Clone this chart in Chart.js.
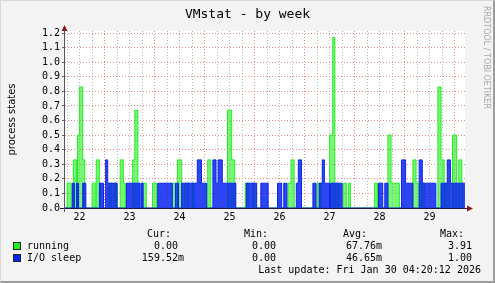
<!DOCTYPE html>
<html>
<head>
<meta charset="utf-8">
<script src="https://cdn.jsdelivr.net/npm/chart.js@4.4.1/dist/chart.umd.min.js"></script>
<style>
  html, body { margin: 0; padding: 0; background: #f3f3f3; }
  #graph { position: relative; width: 495px; height: 283px; background: #f3f3f3; overflow: hidden;
           font-family: 'DejaVu Sans Mono', monospace; font-size: 10px; line-height: 12px; color: #000; }
  #graph canvas { position: absolute; left: 0; top: 0; }
  .frame { position: absolute; left: 0; top: 0; width: 495px; height: 283px; box-sizing: border-box;
           border-top: 1px solid #d8d8d8; border-left: 1px solid #d8d8d8;
           border-right: 2px solid #9c9c9c; border-bottom: 2px solid #9c9c9c; }
  .t { position: absolute; white-space: pre; }
  .sw { position: absolute; width: 6px; height: 6px; border: 1px solid #222; }
</style>
</head>
<body>
<div id="graph">
  <canvas id="vmstat" width="495" height="283"></canvas>
  <div class="t" style="left:0;width:495px;text-align:center;top:6px;font-size:13px;line-height:15px;">VMstat - by week</div>
  <div class="t" style="left:481px;top:6px;writing-mode:vertical-rl;font-family:'DejaVu Sans';font-size:8px;line-height:10px;color:#a8a8a8;">RRDTOOL / TOBI OETIKER</div>
  <div id="legend"></div>
  <div class="frame"></div>
</div>
<script>
(function () {
    "use strict";

    // x is in hours since Jan 22 00:00, one week + a bit (05:00 Jan 22 .. 05:00 Jan 30)
    var xMin = 5, xMax = 197;
    var dayLabels = ['22', '23', '24', '25', '26', '27', '28', '29'];
    var yTicks = [0, 0.1, 0.2, 0.3, 0.4, 0.5, 0.6, 0.7, 0.8, 0.9, 1.0, 1.1, 1.2];

    // [start hour, end hour, value]
    var runningSpans = [
        [6, 8, 0.17], [9, 10.5, 0.33], [11, 12, 0.5], [12, 13.5, 0.83], [13.5, 14.5, 0.33],
        [18, 19.5, 0.17], [20, 21.5, 0.33], [21.5, 22, 0.17], [26, 27.5, 0.17], [28.5, 30, 0.17],
        [31.5, 33, 0.33], [33, 34, 0.17], [37.5, 38.5, 0.33], [38.5, 40, 0.67], [42, 44, 0.17],
        [47, 49, 0.17], [56.5, 58, 0.17], [59, 61, 0.33], [62.5, 64.5, 0.17], [66, 67, 0.17],
        [73.5, 75, 0.33], [83, 85, 0.67], [85, 86.5, 0.33], [91.5, 93, 0.17], [95, 96, 0.17],
        [112, 113.5, 0.17], [113.5, 115, 0.33], [126, 128, 0.17], [132, 133.5, 0.5], [133.5, 134.5, 1.17],
        [135, 136.5, 0.17], [138.5, 140, 0.17], [141, 142, 0.17], [153.5, 155, 0.17], [160, 161.5, 0.5],
        [161.5, 165.5, 0.17], [172, 173.5, 0.33], [173.5, 175, 0.17], [176, 177.5, 0.17], [184, 185.5, 0.83],
        [185.5, 187, 0.33], [187.5, 189.5, 0.17], [191, 193, 0.5], [194, 195.5, 0.33], [195.5, 196, 0.17]
    ];
    var ioSleepSpans = [
        [8.5, 9.5, 0.17], [10.5, 11.5, 0.17], [13.5, 15, 0.17], [21.5, 23.5, 0.17], [24.5, 25.5, 0.33],
        [25.5, 30, 0.17], [34.5, 41, 0.17], [41.5, 42.5, 0.17], [49.5, 56.5, 0.17], [58, 59.5, 0.17],
        [61, 68.5, 0.17], [68.5, 70.5, 0.33], [70.5, 73, 0.17], [76, 77.5, 0.33], [77.5, 78.5, 0.17],
        [78.5, 80.5, 0.33], [80.5, 87, 0.17], [92, 97, 0.17], [99, 102.5, 0.17], [107, 109, 0.17],
        [110, 111.5, 0.17], [116, 117, 0.17], [117, 118.5, 0.33], [124, 125.5, 0.17], [127, 128.5, 0.17],
        [128.5, 129.5, 0.33], [129.5, 132, 0.17], [132.5, 138, 0.17], [155.5, 157.5, 0.17], [158.5, 160, 0.17],
        [166.5, 168.5, 0.33], [168.5, 172, 0.17], [175, 176.5, 0.33], [176.5, 183, 0.17], [185.5, 188.5, 0.17],
        [188.5, 190, 0.33], [190, 198, 0.17]
    ];

    // Legend table
    var seriesNames = ['running', 'I/O sleep'];
    var seriesColors = ['#22ee22', '#0a24f0'];
    var curValues = ['0.00 ', '159.52m'];
    var minValues = ['0.00 ', '0.00 '];
    var avgValues = ['67.76m', '46.65m'];
    var maxValues = ['3.91 ', '1.00 '];
    var lastUpdate = 'Last update: Fri Jan 30 04:20:12 2026';


    // spans -> stepped points
    function toSteps(spans) {
        var pts = [{x: xMin, y: 0}];
        spans.forEach(function (s, i) {
            pts.push({x: s[0], y: s[2]});
            var next = spans[i + 1];
            if (!next || next[0] > s[1]) {
                pts.push({x: s[1], y: 0});
            }
        });
        return pts;
    }

    var gridHours = [];
    for (var h = 6; h <= xMax; h += 6) {
        gridHours.push(h);
    }

    // Axis arrows + white canvas behind the plot
    var rrdFrame = {
        id: 'rrdFrame',
        beforeDraw: function (chart) {
            var a = chart.chartArea, ctx = chart.ctx;
            ctx.save();
            ctx.fillStyle = '#ffffff';
            ctx.fillRect(a.left, a.top, a.right - a.left, a.bottom - a.top);
            ctx.restore();
        },
        afterDraw: function (chart) {
            var a = chart.chartArea, ctx = chart.ctx;
            ctx.save();
            ctx.strokeStyle = '#1a1a4a';
            ctx.lineWidth = 1;
            ctx.beginPath();
            ctx.moveTo(a.left - 5, a.bottom + 0.5);
            ctx.lineTo(a.right + 3, a.bottom + 0.5);
            ctx.stroke();
            ctx.strokeStyle = '#555555';
            ctx.beginPath();
            ctx.moveTo(a.left - 0.5, a.bottom + 4);
            ctx.lineTo(a.left - 0.5, a.top - 2);
            ctx.stroke();
            ctx.fillStyle = '#8b1a1a';
            ctx.beginPath();
            ctx.moveTo(a.right + 2, a.bottom - 2.5);
            ctx.lineTo(a.right + 8, a.bottom + 0.5);
            ctx.lineTo(a.right + 2, a.bottom + 3.5);
            ctx.fill();
            ctx.beginPath();
            ctx.moveTo(a.left - 3.5, a.top);
            ctx.lineTo(a.left - 0.5, a.top - 6);
            ctx.lineTo(a.left + 2.5, a.top);
            ctx.fill();
            ctx.restore();
        }
    };

    new Chart(document.getElementById('vmstat').getContext('2d'), {
        type: 'line',
        data: {
            datasets: [{
                label: seriesNames[0],
                data: toSteps(runningSpans),
                borderColor: seriesColors[0],
                backgroundColor: 'rgba(34, 238, 34, 0.6)',
                borderWidth: 1,
                fill: 'origin',
                stepped: true,
                pointRadius: 0,
                order: 1
            }, {
                label: seriesNames[1],
                data: toSteps(ioSleepSpans),
                borderColor: seriesColors[1],
                backgroundColor: 'rgba(10, 36, 240, 0.85)',
                borderWidth: 1,
                fill: 'origin',
                stepped: true,
                pointRadius: 0,
                order: 0
            }]
        },
        options: {
            responsive: false,
            animation: false,
            devicePixelRatio: 1,
            layout: {padding: {top: 31, right: 30, left: 0, bottom: 0}},
            plugins: {
                legend: {display: false},
                tooltip: {enabled: false}
            },
            scales: {
                x: {
                    type: 'linear',
                    min: xMin,
                    max: xMax,
                    afterBuildTicks: function (s) {
                        s.ticks = gridHours.map(function (v) { return {value: v}; });
                    },
                    afterFit: function (s) { s.height = 75; },
                    ticks: {
                        autoSkip: false,
                        maxRotation: 0,
                        padding: 3,
                        color: '#000',
                        font: {family: 'DejaVu Sans Mono', size: 10},
                        callback: function (v) {
                            return v % 24 === 12 ? dayLabels[(v - 12) / 24] : '';
                        }
                    },
                    grid: {
                        drawTicks: false,
                        color: function (ctx) {
                            return ctx.tick && ctx.tick.value % 24 === 0 ?
                                'rgba(235, 110, 110, 0.8)' : 'rgba(165, 165, 165, 0.8)';
                        }
                    },
                    border: {display: false, dash: [1, 2]}
                },
                y: {
                    min: 0,
                    max: 1.214,
                    afterBuildTicks: function (s) {
                        s.ticks = yTicks.map(function (v) { return {value: v}; });
                    },
                    afterFit: function (s) { s.width = 65; },
                    ticks: {
                        autoSkip: false,
                        padding: 2,
                        color: '#000',
                        font: {family: 'DejaVu Sans Mono', size: 10},
                        callback: function (v) { return v.toFixed(1); }
                    },
                    grid: {
                        color: 'rgba(235, 110, 110, 0.8)',
                        tickColor: '#666',
                        tickLength: 3
                    },
                    border: {display: false, dash: [1, 2]},
                    title: {
                        display: true,
                        text: 'process states',
                        color: '#000',
                        font: {family: 'DejaVu Sans', size: 10},
                        padding: {top: 6, bottom: 0}
                    }
                }
            }
        },
        plugins: [rrdFrame]
    });


    // Legend (Cur / Min / Avg / Max table)
    var legend = document.getElementById('legend');
    function text(str, top, opts) {
        var d = document.createElement('div');
        d.className = 't';
        d.textContent = str;
        d.style.top = top + 'px';
        if (opts.left !== undefined) d.style.left = opts.left + 'px';
        if (opts.right !== undefined) d.style.right = (495 - opts.right) + 'px';
        legend.appendChild(d);
    }
    var cols = [
        {head: 'Cur:', headR: 171, valR: 184, vals: curValues},
        {head: 'Min:', headR: 268, valR: 282, vals: minValues},
        {head: 'Avg:', headR: 367, valR: 382, vals: avgValues},
        {head: 'Max:', headR: 464, valR: 478, vals: maxValues}
    ];
    cols.forEach(function (c) {
        text(c.head, 228, {right: c.headR});
    });
    seriesNames.forEach(function (name, i) {
        var top = 240 + i * 12;
        var sw = document.createElement('div');
        sw.className = 'sw';
        sw.style.left = '13px';
        sw.style.top = (top + 2) + 'px';
        sw.style.background = seriesColors[i];
        legend.appendChild(sw);
        text(name, top, {left: 27});
        cols.forEach(function (c) {
            text(c.vals[i], top, {right: c.valR});
        });
    });
    text(lastUpdate, 264, {right: 481});

})();
</script>
</body>
</html>
